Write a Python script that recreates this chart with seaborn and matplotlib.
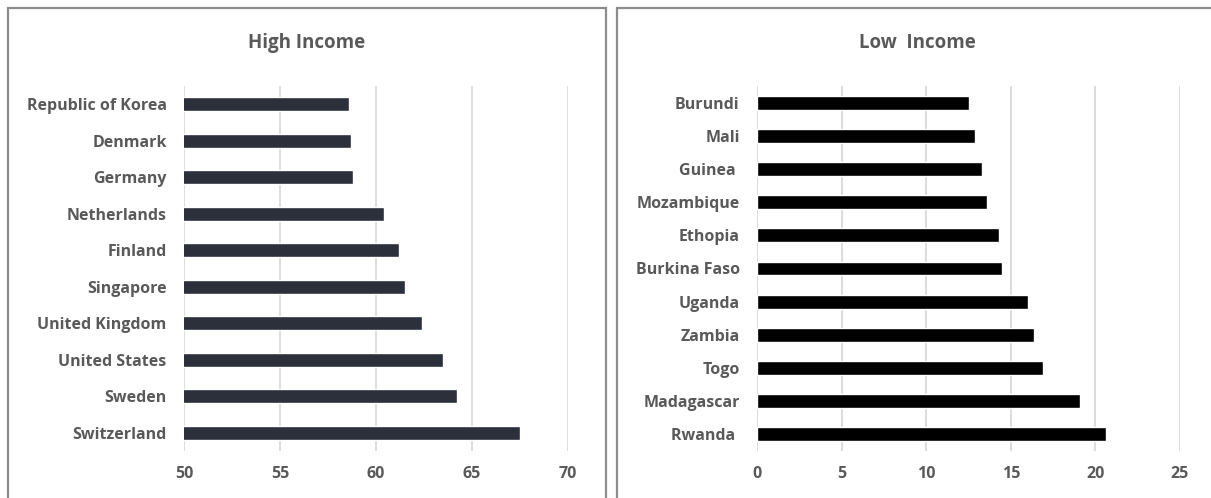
import matplotlib
matplotlib.use("Agg")
import matplotlib.pyplot as plt
import seaborn as sns
import pandas as pd
from matplotlib.patches import Rectangle

high_countries = ["Republic of Korea", "Denmark", "Germany", "Netherlands", "Finland",
                  "Singapore", "United Kingdom", "United States", "Sweden", "Switzerland"]
high_values = [58.6, 58.7, 58.8, 60.4, 61.2, 61.5, 62.4, 63.5, 64.2, 67.5]

low_countries = ["Burundi", "Mali", "Guinea ", "Mozambique", "Ethopia", "Burkina Faso",
                 "Uganda", "Zambia", "Togo", "Madagascar", "Rwanda "]
low_values = [12.5, 12.9, 13.3, 13.6, 14.3, 14.5, 16.0, 16.4, 16.9, 19.1, 20.6]

high_ticks = [50, 55, 60, 65, 70]
low_ticks = [0, 5, 10, 15, 20, 25]

sns.set_theme(style="white")
plt.rcParams['font.family'] = ['Open Sans', 'DejaVu Sans']

W, H = 1211, 498
fig = plt.figure(figsize=(W / 100, H / 100), dpi=100)
fig.patch.set_facecolor("white")

text_color = "#595959"
grid_color = "#d9d9d9"

def px_axes(x0, x1, y_top, y_bot):
    return fig.add_axes([x0 / W, (H - y_bot) / H, (x1 - x0) / W, (y_bot - y_top) / H])

def style(ax, ticks, xlim, title, title_x):
    ax.set_xlim(*xlim)
    ax.set_xticks(ticks)
    ax.set_xticklabels([str(t) for t in ticks])
    ax.grid(axis="x", color=grid_color, linewidth=1.3)
    ax.grid(axis="y", visible=False)
    ax.set_axisbelow(True)
    for s in ax.spines.values():
        s.set_visible(False)
    ax.set_xlabel("")
    ax.set_ylabel("")
    ax.tick_params(axis="y", length=0, pad=12.5, labelsize=11.5, labelcolor=text_color)
    ax.tick_params(axis="x", length=0, pad=11, labelsize=11.5, labelcolor=text_color)
    for lab in ax.get_yticklabels() + ax.get_xticklabels():
        lab.set_fontweight("bold")
    fig.text(title_x / W, (H - 43) / H, title, ha="center", va="center",
             fontsize=13.5, fontweight="bold", color=text_color)

# Left panel
ax1 = px_axes(184, 568, 86, 451)
df_h = pd.DataFrame({"country": high_countries, "value": high_values})
sns.barplot(data=df_h, x="value", y="country", orient="h", color="#2b303b",
            width=0.38, ax=ax1, saturation=1)
style(ax1, high_ticks, (50, 70), "High Income", 307)

# Right panel
ax2 = px_axes(757, 1180, 86, 451)
df_l = pd.DataFrame({"country": low_countries, "value": low_values})
sns.barplot(data=df_l, x="value", y="country", orient="h", color="#000000",
            width=0.42, ax=ax2, saturation=1)
style(ax2, low_ticks, (0, 25), "Low  Income", 917)

# Panel borders
border = "#8c8c8c"
fig.patches.append(Rectangle((8 / W, -0.05), (606 - 8) / W, (H - 8) / H + 0.05,
                             transform=fig.transFigure, fill=False, edgecolor=border,
                             linewidth=1.6))
fig.patches.append(Rectangle((617 / W, -0.05), (1230 - 617) / W, (H - 8) / H + 0.05,
                             transform=fig.transFigure, fill=False, edgecolor=border,
                             linewidth=1.6))

fig.savefig("out.png", dpi=100)
